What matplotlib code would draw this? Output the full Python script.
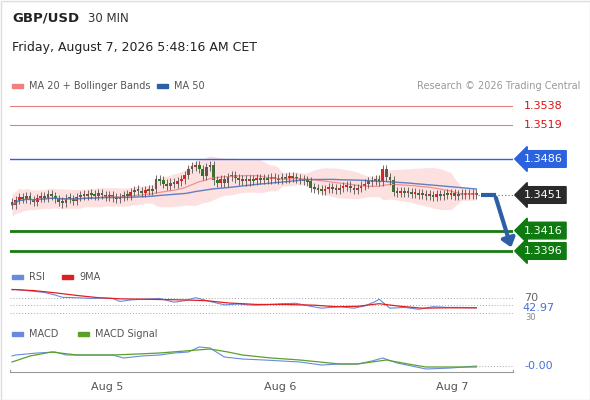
import matplotlib
matplotlib.use("Agg")
import matplotlib.pyplot as plt
import numpy as np
import pandas as pd
from matplotlib.patches import Rectangle, FancyArrowPatch

closes = [1.3441,1.3446,1.3449,1.3447,1.3450,1.3446,1.3444,1.3448,1.3450,1.3448,
          1.3452,1.3450,1.3447,1.3444,1.3443,1.3448,1.3447,1.3445,1.3449,1.3451,
          1.3450,1.3452,1.3451,1.3450,1.3453,1.3451,1.3449,1.3451,1.3448,1.3447,
          1.3449,1.3451,1.3450,1.3454,1.3456,1.3455,1.3453,1.3456,1.3455,1.3457,
          1.3466,1.3465,1.3462,1.3460,1.3463,1.3462,1.3464,1.3466,1.3470,1.3476,
          1.3479,1.3480,1.3476,1.3469,1.3478,1.3480,1.3465,1.3463,1.3466,1.3463,
          1.3468,1.3470,1.3467,1.3465,1.3466,1.3464,1.3466,1.3465,1.3467,1.3466,
          1.3467,1.3466,1.3468,1.3467,1.3466,1.3468,1.3467,1.3469,1.3468,1.3467,
          1.3466,1.3465,1.3464,1.3458,1.3457,1.3456,1.3455,1.3457,1.3459,1.3457,
          1.3456,1.3458,1.3459,1.3460,1.3458,1.3456,1.3458,1.3460,1.3462,1.3464,
          1.3465,1.3466,1.3464,1.3476,1.3468,1.3465,1.3454,1.3453,1.3454,1.3453,
          1.3454,1.3452,1.3453,1.3451,1.3452,1.3450,1.3451,1.3449,1.3452,1.3450,
          1.3452,1.3451,1.3453,1.3450,1.3452,1.3451,1.3452,1.3451,1.3452,1.3451]
first_open = 1.3444
day_labels = ["Aug 5", "Aug 6", "Aug 7"]
day_pos = [26.4, 74.4, 122.4]
resist = [1.3538, 1.3519]
pivot = 1.3486
last = 1.3451
supports = [1.3416, 1.3396]

rsi_idx = [0, 1, 5, 9, 12, 14, 18, 22, 25, 28, 30, 33, 36, 41, 45, 48, 51, 55, 59, 63, 67,
           70, 75, 79, 83, 86, 91, 95, 98, 101, 102, 105, 109, 113, 117, 121, 124, 129]
rsi_val = [91, 92, 88, 84, 77, 71, 70, 68, 69, 68, 60, 64, 66, 68, 58, 62, 70, 60, 51, 53, 50,
           51, 54, 55, 47, 42, 46, 42, 48, 60, 66, 42, 44, 39, 46, 44, 44, 43]
rsi_label = "42.97"
ma9_idx = [0, 6, 12, 18, 24, 30, 36, 42, 48, 54, 60, 68, 76, 84, 90, 96, 102, 108, 114, 120, 129]
ma9_val = [92, 89, 83, 76, 70, 67, 66, 65, 64, 62, 56, 52, 52, 50, 46, 47, 54, 47, 42, 43, 43]

macd_idx = [0, 1, 7, 12, 15, 22, 28, 31, 36, 41, 45, 49, 52, 55, 59, 64, 70, 75, 80, 86, 91,
            96, 100, 103, 107, 111, 115, 122, 129]
macd_val = [10, 11, 13, 14, 11, 11, 11, 8, 10, 11, 13, 14, 19, 18, 9, 7, 6, 5, 4, 1, 2,
            2, 5, 8, 3, 0, -3, -2, 0]
sig_idx = [0, 5, 11, 18, 28, 35, 41, 48, 55, 60, 64, 72, 80, 91, 96, 100, 104, 110, 115, 122, 129]
sig_val = [4, 10, 14, 11, 11, 12, 13, 15, 17, 14, 11, 8, 6, 2, 2, 4, 6, 2, -1, -1, -1]
macd_label = "-0.00"

W, H = 590, 400
fig = plt.figure(figsize=(5.9, 4.0), dpi=100)
fig.patch.set_facecolor("white")

def fx(x): return x / W
def fy(y): return 1 - y / H
def axes_px(x0, y0, x1, y1):
    return fig.add_axes([fx(x0), fy(y1), (x1 - x0) / W, (y1 - y0) / H])

n = len(closes)
c = np.array(closes)
o = np.concatenate([[first_open], c[:-1]])
s = pd.Series(c)
ma20 = s.rolling(20, min_periods=1).mean()
sd20 = s.rolling(20, min_periods=2).std().bfill()
ma50 = s.rolling(50, min_periods=1).mean()
idx = np.arange(n)
XL = (-0.56, 139.2)

# ---------- price axes
ax = axes_px(10, 90, 513, 262)
ax.set_xlim(*XL)
y2p = lambda y: 1.3486 - (y - 159) / 10222
ax.set_ylim(y2p(262), y2p(90))
ax.axis("off")
ax.fill_between(idx, ma20 - 2.2 * sd20 - 0.0003, ma20 + 2.2 * sd20 + 0.0003,
                color="#fde0e0", lw=0)
ax.plot(idx, ma20, color="#f59090", lw=0.9)
ax.plot(idx, ma50, color="#6080c0", lw=1.0)
for i in range(n):
    up = c[i] >= o[i]
    col = "#d42a2a" if up else "#2f7a22"
    lo, hi = min(o[i], c[i]), max(o[i], c[i])
    if hi - lo < 0.0002:
        mid = (hi + lo) / 2
        lo, hi = mid - 0.0001, mid + 0.0001
    ax.vlines(i, lo - 0.0004, hi + 0.0004, color="#555555", lw=0.6)
    ax.add_patch(Rectangle((i - 0.38, lo), 0.76, hi - lo, color=col, lw=0))
for r in resist:
    ax.axhline(r, color="#e88080", lw=0.8)
ax.axhline(pivot, color="#2a62e0", lw=1.0)
for sp in supports:
    ax.axhline(sp, color="#1a7a10", lw=2.0)
ax.plot([n - 1 + 0.5, XL[1]], [last, last], ls=(0, (1, 2)), color="#666666", lw=0.8)

def box(y, txt, fc, tc="white"):
    fig.text(fx(524), fy(y), txt, fontsize=8, color=tc, va="center", ha="left",
             bbox=dict(boxstyle="larrow,pad=0.3", fc=fc, ec=fc))
for r in resist:
    fig.text(fx(524), fy(159 - (r - 1.3486) * 10222), f"{r:.4f}", fontsize=8,
             color="#dd1111", va="center")
box(159, f"{pivot:.4f}", "#2a62e0")
box(195, f"{last:.4f}", "#2a2a2a")
for sp in supports:
    box(159 - (sp - 1.3486) * 10222, f"{sp:.4f}", "#0f7a0f")

fig.add_artist(plt.Line2D([fx(481), fx(496)], [fy(195), fy(195)], color="#2d5fa8", lw=3,
                          solid_capstyle="butt"))
fig.add_artist(FancyArrowPatch((fx(495), fy(195)), (fx(512), fy(250)),
               transform=fig.transFigure, arrowstyle="-|>,head_length=5,head_width=4",
               color="#2d5fa8", lw=3))

# ---------- RSI
axr = axes_px(10, 285, 513, 318)
axr.set_xlim(*XL)
r_of = lambda y: 70 - (y - 297.7) * 40 / 15
axr.set_ylim(r_of(318), r_of(285))
axr.axis("off")
for lvl in (70, 50, 30):
    axr.axhline(lvl, color="#aaaaaa", ls=(0, (1, 2)), lw=0.7)
axr.plot(rsi_idx, rsi_val, color="#6a8ae0", lw=0.8)
axr.plot(ma9_idx, ma9_val, color="#e02020", lw=0.9)
fig.text(fx(524), fy(297.7), "70", fontsize=8, color="#666666", va="center")
fig.text(fx(525), fy(318), "30", fontsize=6, color="#888888", va="center")
fig.text(fx(522), fy(308), rsi_label, fontsize=8, color="#4a70d8", va="center",
         bbox=dict(fc="white", ec="none", pad=0.3))

# ---------- MACD
axm = axes_px(10, 340, 513, 372)
axm.set_xlim(*XL)
axm.set_ylim(-6, 26)
axm.plot([n - 1, XL[1]], [0, 0], color="#aaaaaa", ls=(0, (1, 2)), lw=0.7)
axm.plot(macd_idx, macd_val, color="#6a8ae0", lw=0.8)
axm.plot(sig_idx, sig_val, color="#5aa02a", lw=0.9)
for sp_ in ("top", "right", "left"):
    axm.spines[sp_].set_visible(False)
axm.spines["bottom"].set_color("#999999")
axm.set_yticks([])
axm.set_xticks(day_pos)
axm.set_xticklabels(day_labels, fontsize=8, color="#555555")
axm.tick_params(axis="x", length=0, pad=7)
for xx in (XL[0], XL[1]):
    axm.plot([xx, xx], [-6, -3.5], color="#999999", lw=0.8, clip_on=False)
fig.text(fx(524), fy(366), macd_label, fontsize=8, color="#4a70d8", va="center")

# ---------- header / legends
fig.text(fx(12), fy(18), "GBP/USD", fontsize=9.5, fontweight="bold", color="#222222", va="center")
fig.text(fx(88), fy(18), "30 MIN", fontsize=8.5, color="#333333", va="center")
fig.text(fx(12), fy(48), "Friday, August 7, 2026 5:48:16 AM CET", fontsize=9, color="#222222", va="center")

def leg(x, y, col, txt):
    fig.add_artist(Rectangle((fx(x), fy(y) - 1.5 / H), 11 / W, 4 / H, color=col,
                             transform=fig.transFigure))
    fig.text(fx(x + 17), fy(y), txt, fontsize=7, color="#555555", va="center")
leg(12, 86, "#f08080", "MA 20 + Bollinger Bands")
leg(157, 86, "#2d5fa8", "MA 50")
fig.text(fx(580), fy(86), "Research © 2026 Trading Central", fontsize=7, color="#999999",
         va="center", ha="right")
leg(12, 277, "#6a8ae0", "RSI")
leg(62, 277, "#e02020", "9MA")
leg(12, 334, "#6a8ae0", "MACD")
leg(78, 334, "#5aa02a", "MACD Signal")

fig.add_artist(Rectangle((0.5 / W, 0.5 / H), 1 - 1 / W, 1 - 1 / H, fill=False,
                         ec="#dddddd", lw=1, transform=fig.transFigure))
fig.savefig("out.png", dpi=100)
